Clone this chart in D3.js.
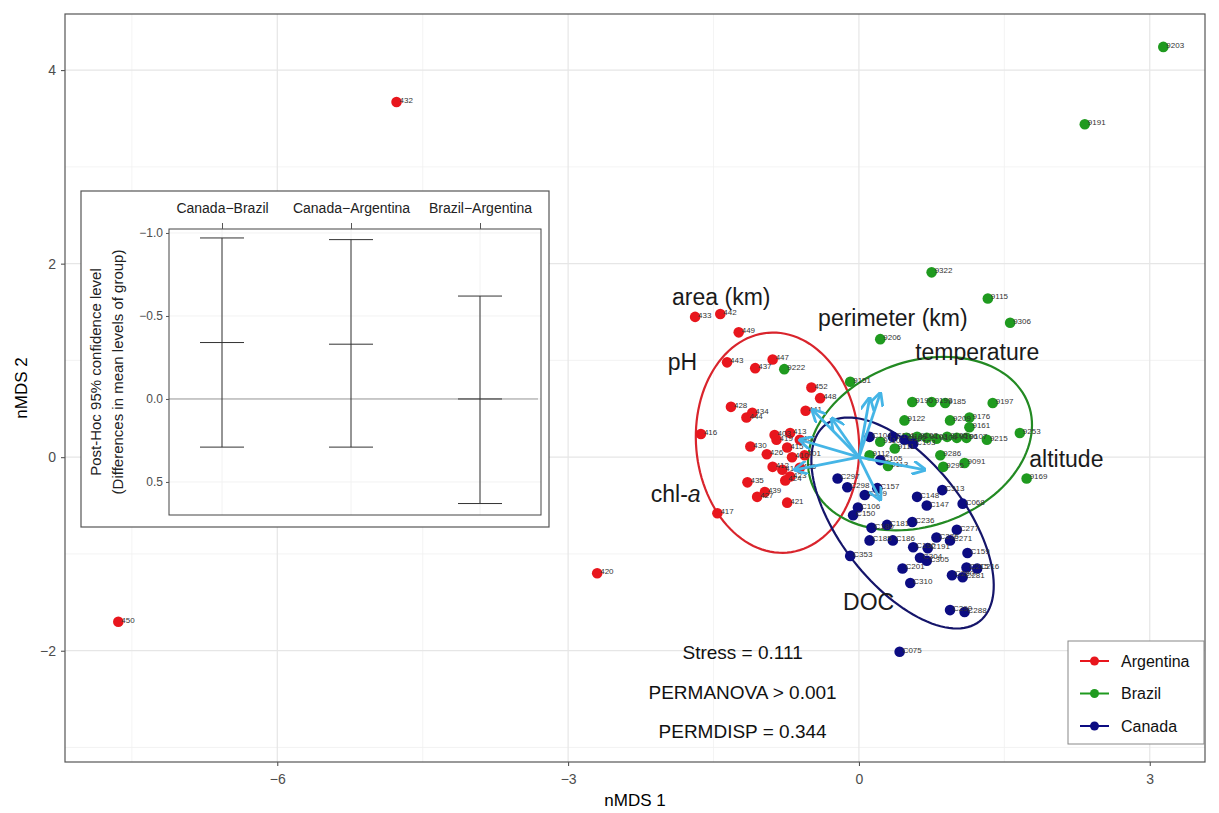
<!DOCTYPE html>
<html><head><meta charset="utf-8">
<script src="https://cdn.jsdelivr.net/npm/d3@7"></script>
<style>body{margin:0;background:#fff} text{font-family:"Liberation Sans",Arial,sans-serif}</style>
</head><body><svg id="c" width="1219" height="813"></svg>
<script>
// ---------------- DATA ----------------
const groups = ["Argentina", "Brazil", "Canada"];
const groupColors = ["#e8161d", "#1f9a1f", "#0c0c82"];
const ellipseColors = ["#d9242c", "#238a23", "#15156a"];

const xTicks = [-6, -3, 0, 3];
const yTicks = [-2, 0, 2, 4];
const xMinor = [-7.5, -4.5, -1.5, 1.5];
const yMinor = [-3, -1, 1, 3];

const argentinaPoints = [
  ["432",-4.77,3.67],["420",-2.70,-1.20],["450",-7.64,-1.70],
  ["433",-1.69,1.45],["442",-1.43,1.48],["449",-1.24,1.29],["443",-1.36,0.98],
  ["437",-1.07,0.92],["447",-0.89,1.01],["452",-0.49,0.72],["448",-0.40,0.61],
  ["441",-0.55,0.48],["428",-1.32,0.52],["444",-1.16,0.41],["434",-1.10,0.46],
  ["416",-1.63,0.24],["430",-1.12,0.11],["426",-0.95,0.03],["419",-0.85,0.18],
  ["413",-0.71,0.25],["415",-0.74,0.10],["410",-0.69,0.00],["435",-1.15,-0.26],
  ["427",-1.05,-0.41],["439",-0.97,-0.36],["421",-0.74,-0.47],["417",-1.46,-0.58],
  ["412",-0.89,-0.10],["418",-0.79,-0.13],["423",-0.71,-0.20],["436",-0.61,-0.11],
  ["424",-0.76,-0.24],["401",-0.56,0.02],["402",-0.61,0.18],["403",-0.87,0.23]
];
const brazilPoints = [
  ["9203",3.14,4.24],["9191",2.33,3.44],["9322",0.75,1.91],["9115",1.33,1.64],
  ["9306",1.56,1.39],["9206",0.22,1.22],["9222",-0.77,0.91],["9151",-0.09,0.78],
  ["9197",1.38,0.56],["9176",1.14,0.41],["9161",1.14,0.31],["9215",1.32,0.18],
  ["9253",1.66,0.25],["9091",1.09,-0.06],["9122",0.47,0.38],["9190",0.55,0.57],
  ["9193",0.75,0.57],["9185",0.89,0.56],["9209",0.94,0.38],["9169",1.73,-0.22],
  ["9101",0.49,0.20],["9102",0.60,0.21],["9103",0.70,0.20],["9104",0.80,0.19],
  ["9105",0.91,0.21],["9106",1.01,0.20],["9107",1.11,0.20],["9286",0.84,0.02],
  ["9295",0.87,-0.10],["9110",0.22,0.16],["9111",0.37,0.09],["9112",0.11,0.02],
  ["9113",0.30,-0.09]
];
const canadaPoints = [
  ["C075",0.42,-2.01],["C297",-0.22,-0.22],["C298",-0.12,-0.31],["C299",0.06,-0.39],
  ["C157",0.19,-0.32],["C148",0.60,-0.41],["C147",0.70,-0.50],["C313",0.86,-0.34],
  ["C068",1.07,-0.48],["C150",-0.06,-0.60],["C236",0.55,-0.67],["C180",0.13,-0.73],
  ["C181",0.29,-0.70],["C185",0.11,-0.86],["C186",0.35,-0.86],["C190",0.56,-0.93],
  ["C191",0.71,-0.94],["C276",0.80,-0.83],["C271",0.94,-0.86],["C277",1.01,-0.75],
  ["C353",-0.09,-1.02],["C159",1.12,-0.99],["C304",0.63,-1.04],["C305",0.70,-1.07],
  ["C201",0.45,-1.15],["C215",1.11,-1.14],["C216",1.22,-1.15],["C280",0.96,-1.22],
  ["C281",1.07,-1.24],["C310",0.53,-1.30],["C290",0.94,-1.58],["C288",1.09,-1.60],
  ["C101",0.35,0.21],["C102",0.47,0.18],["C103",0.56,0.14],["C104",0.11,0.21],
  ["C105",0.22,-0.03],["C106",-0.01,-0.52]
];

// 95% ellipses (centre, semi-axes, rotation in degrees) per group
const ellipseCx = [-0.84, 0.63, 0.45];
const ellipseCy = [0.15, 0.14, -0.68];
const ellipseA = [1.14, 1.19, 1.29];
const ellipseB = [0.84, 0.85, 0.64];
const ellipseAngle = [95, 20, -52];

// environmental vectors
const vectorEndX = [0.22, 0.11, -0.48, -0.28, -0.66, 0.68, 0.22, -0.61];
const vectorEndY = [0.66, 0.61, 0.49, 0.40, -0.13, -0.13, -0.44, 0.18];
const vectorLabels = ["area (km)", "perimeter (km)", "temperature", "pH", "altitude", "chl-a", "DOC"];
const vectorLabelX = [-1.42, 0.35, 1.22, -1.82, 2.14, -1.89, 0.10];
const vectorLabelY = [1.66, 1.44, 1.09, 0.98, -0.02, -0.38, -1.50];

const statLines = ["Stress = 0.111", "PERMANOVA > 0.001", "PERMDISP = 0.344"];
const statX = -1.2;
const statY = [-2.02, -2.43, -2.83];

// post-hoc inset
const comparisons = ["Canada\u2212Brazil", "Canada\u2212Argentina", "Brazil\u2212Argentina"];
const diffLower = [-0.97, -0.96, -0.62];
const diffMean = [-0.34, -0.33, 0.00];
const diffUpper = [0.29, 0.29, 0.63];
const insetTicks = [-1.0, -0.5, 0.0, 0.5];

// ---------------- DRAW ----------------
const svg = d3.select("#c");
const P = {l: 65, r: 1205, t: 14, b: 762};
const x = d3.scaleLinear().domain([-8.19, 3.57]).range([P.l, P.r]);
const y = d3.scaleLinear().domain([-3.15, 4.58]).range([P.b, P.t]);
const fmt = v => String(v).replace("-", "\u2212");

svg.append("rect").attr("x", P.l).attr("y", P.t).attr("width", P.r - P.l).attr("height", P.b - P.t).attr("fill", "#fff");
const grid = svg.append("g");
xMinor.forEach(v => grid.append("line").attr("x1", x(v)).attr("x2", x(v)).attr("y1", P.t).attr("y2", P.b).attr("stroke", "#f0f0f0").attr("stroke-width", 0.8));
yMinor.forEach(v => grid.append("line").attr("y1", y(v)).attr("y2", y(v)).attr("x1", P.l).attr("x2", P.r).attr("stroke", "#f0f0f0").attr("stroke-width", 0.8));
xTicks.forEach(v => grid.append("line").attr("x1", x(v)).attr("x2", x(v)).attr("y1", P.t).attr("y2", P.b).attr("stroke", "#e6e6e6").attr("stroke-width", 1.2));
yTicks.forEach(v => grid.append("line").attr("y1", y(v)).attr("y2", y(v)).attr("x1", P.l).attr("x2", P.r).attr("stroke", "#e6e6e6").attr("stroke-width", 1.2));

// axes
const xAxis = svg.append("g").attr("transform", `translate(0,${P.b})`)
  .call(d3.axisBottom(x).tickValues(xTicks).tickSize(4).tickPadding(8).tickFormat(fmt));
const yAxis = svg.append("g").attr("transform", `translate(${P.l},0)`)
  .call(d3.axisLeft(y).tickValues(yTicks).tickSize(4).tickPadding(5).tickFormat(fmt));
[xAxis, yAxis].forEach(a => {
  a.select(".domain").remove();
  a.selectAll("line").attr("stroke", "#444");
  a.selectAll("text").attr("fill", "#4d4d4d").style("font-size", "14px").style("font-family", "Liberation Sans, Arial, sans-serif");
});
svg.append("text").attr("x", (P.l + P.r) / 2).attr("y", 806).attr("text-anchor", "middle")
  .style("font-size", "17px").text("nMDS 1");
svg.append("text").attr("transform", `translate(27,${(P.t + P.b) / 2}) rotate(-90)`).attr("text-anchor", "middle")
  .style("font-size", "17px").text("nMDS 2");

// ellipses
const ell = svg.append("g");
groups.forEach((g, i) => {
  const phi = ellipseAngle[i] * Math.PI / 180;
  const pts = d3.range(0, 361, 3).map(d => {
    const t = d * Math.PI / 180;
    const ex = ellipseCx[i] + ellipseA[i] * Math.cos(t) * Math.cos(phi) - ellipseB[i] * Math.sin(t) * Math.sin(phi);
    const ey = ellipseCy[i] + ellipseA[i] * Math.cos(t) * Math.sin(phi) + ellipseB[i] * Math.sin(t) * Math.cos(phi);
    return [x(ex), y(ey)];
  });
  ell.append("path").attr("d", d3.line()(pts)).attr("fill", "none")
    .attr("stroke", ellipseColors[i]).attr("stroke-width", 2.2);
});

// points
const allSets = [argentinaPoints, brazilPoints, canadaPoints];
const ptsG = svg.append("g");
allSets.forEach((set, i) => {
  ptsG.selectAll(null).data(set).enter().append("circle")
    .attr("cx", d => x(d[1])).attr("cy", d => y(d[2])).attr("r", 5.3)
    .attr("fill", groupColors[i]);
});
allSets.forEach((set, i) => {
  ptsG.selectAll(null).data(set).enter().append("text")
    .attr("x", d => x(d[1]) + 3).attr("y", d => y(d[2]) + 1)
    .style("font-size", "8px").attr("fill", "#333").text(d => d[0]);
});

// vectors
const defs = svg.append("defs");
defs.append("marker").attr("id", "ah").attr("viewBox", "0 0 10 10").attr("refX", 9).attr("refY", 5)
  .attr("markerWidth", 5).attr("markerHeight", 5).attr("orient", "auto-start-reverse")
  .append("path").attr("d", "M0,0 L10,5 L0,10").attr("fill", "none").attr("stroke", "#45b5e6").attr("stroke-width", 2);
const vg = svg.append("g");
vectorEndX.forEach((vx, i) => {
  vg.append("line").attr("x1", x(0)).attr("y1", y(0)).attr("x2", x(vx)).attr("y2", y(vectorEndY[i]))
    .attr("stroke", "#45b5e6").attr("stroke-width", 2.8).attr("marker-end", "url(#ah)");
});
vectorLabels.forEach((lab, i) => {
  const t = svg.append("text").attr("x", x(vectorLabelX[i])).attr("y", y(vectorLabelY[i]))
    .attr("text-anchor", "middle").attr("dominant-baseline", "central")
    .style("font-size", "23px").attr("fill", "#1a1a1a");
  if (lab === "chl-a") {
    t.append("tspan").text("chl-");
    t.append("tspan").style("font-style", "italic").text("a");
  } else t.text(lab);
});

// stats text
statLines.forEach((s, i) => {
  svg.append("text").attr("x", x(statX)).attr("y", y(statY[i])).attr("text-anchor", "middle")
    .attr("dominant-baseline", "central").style("font-size", "19px").attr("fill", "#111").text(s);
});

// panel border
svg.append("rect").attr("x", P.l).attr("y", P.t).attr("width", P.r - P.l).attr("height", P.b - P.t)
  .attr("fill", "none").attr("stroke", "#555").attr("stroke-width", 1.2);

// ---------------- INSET ----------------
const I = {l: 169, r: 541, t: 229, b: 515};
const inset = svg.append("g");
inset.append("rect").attr("x", 81).attr("y", 191).attr("width", 468).attr("height", 336)
  .attr("fill", "#fff").attr("stroke", "#555").attr("stroke-width", 1.2);
const ix = d3.scalePoint().domain(comparisons).range([222, 480]);
const iy = d3.scaleLinear().domain([-1.024, 0.699]).range([I.t, I.b]);
insetTicks.forEach(v => inset.append("line").attr("x1", I.l).attr("x2", I.r).attr("y1", iy(v)).attr("y2", iy(v)).attr("stroke", "#f2f2f2"));
comparisons.forEach(c => inset.append("line").attr("x1", ix(c)).attr("x2", ix(c)).attr("y1", I.t).attr("y2", I.b).attr("stroke", "#f2f2f2"));
inset.append("line").attr("x1", I.l).attr("x2", I.r - 3).attr("y1", iy(0)).attr("y2", iy(0)).attr("stroke", "#999").attr("stroke-width", 1);
inset.append("rect").attr("x", I.l).attr("y", I.t).attr("width", I.r - I.l).attr("height", I.b - I.t)
  .attr("fill", "none").attr("stroke", "#444").attr("stroke-width", 1);
const iyAxis = inset.append("g").attr("transform", `translate(${I.l},0)`)
  .call(d3.axisLeft(iy).tickValues(insetTicks).tickSize(3).tickPadding(3).tickFormat(d => fmt(d3.format(".1f")(d))));
const ixAxis = inset.append("g").attr("transform", `translate(0,${I.t})`)
  .call(d3.axisTop(ix).tickSize(6).tickPadding(10));
[iyAxis, ixAxis].forEach(a => {
  a.select(".domain").remove();
  a.selectAll("line").attr("stroke", "#555");
  a.selectAll("text").style("font-family", "Liberation Sans, Arial, sans-serif");
});
iyAxis.selectAll("text").attr("fill", "#4d4d4d").style("font-size", "12px");
ixAxis.selectAll("text").attr("fill", "#222").style("font-size", "14px");
const cap = 22;
comparisons.forEach((c, i) => {
  inset.append("line").attr("x1", ix(c)).attr("x2", ix(c)).attr("y1", iy(diffLower[i])).attr("y2", iy(diffUpper[i])).attr("stroke", "#333");
  [diffLower[i], diffMean[i], diffUpper[i]].forEach(v =>
    inset.append("line").attr("x1", ix(c) - cap).attr("x2", ix(c) + cap).attr("y1", iy(v)).attr("y2", iy(v)).attr("stroke", "#333"));
});
inset.append("text").attr("transform", `translate(101,${(I.t + I.b) / 2}) rotate(-90)`).attr("text-anchor", "middle")
  .style("font-size", "15px").attr("fill", "#222").text("Post-Hoc 95% confidence level");
inset.append("text").attr("transform", `translate(123,${(I.t + I.b) / 2}) rotate(-90)`).attr("text-anchor", "middle")
  .style("font-size", "15px").attr("fill", "#222").text("(Differences in mean levels of group)");

// ---------------- LEGEND ----------------
const lg = svg.append("g");
lg.append("rect").attr("x", 1068).attr("y", 641).attr("width", 136).attr("height", 103)
  .attr("fill", "#fff").attr("stroke", "#888");
groups.forEach((g, i) => {
  const ly = 661 + i * 32.5;
  lg.append("line").attr("x1", 1080).attr("x2", 1109).attr("y1", ly).attr("y2", ly).attr("stroke", groupColors[i]).attr("stroke-width", 2);
  lg.append("circle").attr("cx", 1094.5).attr("cy", ly).attr("r", 4.5).attr("fill", groupColors[i]);
  lg.append("text").attr("x", 1121).attr("y", ly).attr("dominant-baseline", "central")
    .style("font-size", "16px").attr("fill", "#111").text(g);
});
</script></body></html>
